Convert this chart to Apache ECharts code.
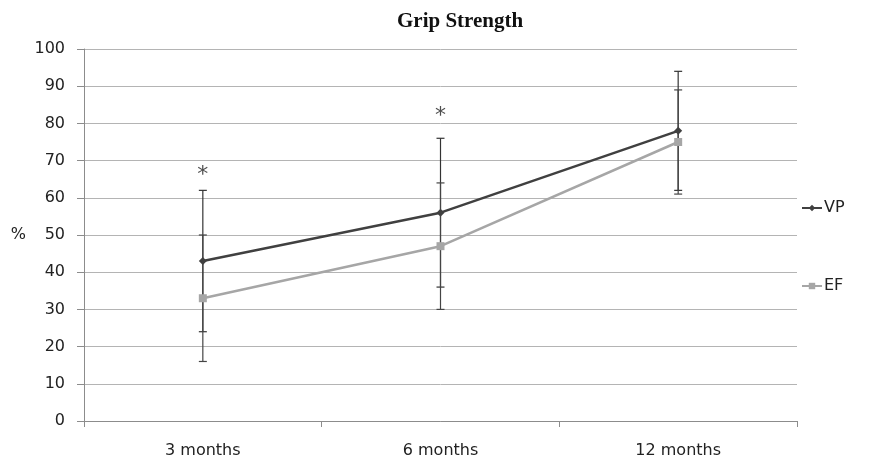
<!DOCTYPE html>
<html>
<head>
<meta charset="utf-8">
<script src="https://cdn.jsdelivr.net/npm/echarts@6/dist/echarts.min.js"></script>
<style>
  html, body { margin: 0; padding: 0; background: #fff; }
  #chart { width: 873px; height: 464px; }
</style>
</head>
<body>
<div id="chart"></div>
<script>
// data
const months = ['3 months', '6 months', '12 months'];
const vpMean = [43, 56, 78];
const vpLow = [24, 36, 62];
const vpHigh = [62, 76, 94];
const efMean = [33, 47, 75];
const efLow = [16, 30, 61];
const efHigh = [50, 64, 89];
// significance asterisks: category index + height
const starCats = [0, 1];
const starY = [66, 82];

const chart = echarts.init(document.getElementById('chart'));

// error bar drawing (vertical line + caps)
function errBars(low, high, color) {
  return {
    type: 'custom',
    silent: true,
    z: 1,
    data: months.map((m, i) => [i, low[i], high[i]]),
    renderItem: function (params, api) {
      const lo = api.coord([api.value(0), api.value(1)]);
      const hi = api.coord([api.value(0), api.value(2)]);
      const w = 4;
      const st = { stroke: color, lineWidth: 1.2 };
      return {
        type: 'group',
        children: [
          { type: 'line', shape: { x1: lo[0], y1: lo[1], x2: hi[0], y2: hi[1] }, style: st },
          { type: 'line', shape: { x1: lo[0] - w, y1: lo[1], x2: lo[0] + w, y2: lo[1] }, style: st },
          { type: 'line', shape: { x1: hi[0] - w, y1: hi[1], x2: hi[0] + w, y2: hi[1] }, style: st }
        ]
      };
    }
  };
}

const option = {
  animation: false,
  backgroundColor: '#fff',
  title: {
    text: 'Grip Strength',
    left: 392,
    top: 6,
    textStyle: { fontFamily: 'Liberation Serif', fontWeight: 'bold', fontSize: 21, color: '#111' }
  },
  legend: {
    orient: 'vertical',
    left: 796,
    top: 195,
    itemGap: 62,
    itemWidth: 20,
    itemHeight: 8,
    data: ['VP', 'EF'],
    textStyle: { fontFamily: 'DejaVu Sans', fontSize: 16, color: '#222', padding: [0, 0, 0, -3] }
  },
  grid: { left: 84, right: 76, top: 49, bottom: 43 },
  xAxis: {
    type: 'category',
    data: months,
    boundaryGap: true,
    axisLine: { lineStyle: { color: '#8c8c8c', width: 1 } },
    axisTick: { show: true, alignWithLabel: false, length: 6, lineStyle: { color: '#8c8c8c' } },
    axisLabel: { fontFamily: 'DejaVu Sans', fontSize: 16, color: '#222', margin: 22 }
  },
  yAxis: {
    type: 'value',
    min: 0,
    max: 100,
    interval: 10,
    name: '%',
    nameLocation: 'middle',
    nameRotate: 0,
    nameGap: 58,
    nameTextStyle: { fontFamily: 'DejaVu Sans', fontSize: 16, color: '#222', padding: [16, 0, 0, 0] },
    axisLine: { show: true, lineStyle: { color: '#8c8c8c', width: 1 } },
    axisTick: { show: true, inside: false, length: 7, lineStyle: { color: '#8c8c8c' } },
    axisLabel: { fontFamily: 'DejaVu Sans', fontSize: 16, color: '#222', margin: 19 },
    splitLine: { lineStyle: { color: '#b4b4b4', width: 1 } }
  },
  series: [
    errBars(vpLow, vpHigh, '#333'),
    errBars(efLow, efHigh, '#444'),
    {
      name: 'VP',
      type: 'line',
      data: vpMean,
      color: '#404040',
      symbol: 'diamond',
      symbolSize: 8,
      lineStyle: { width: 2.5, color: '#404040' },
      itemStyle: { color: '#404040' },
      z: 3
    },
    {
      name: 'EF',
      type: 'line',
      data: efMean,
      color: '#a6a6a6',
      symbol: 'rect',
      symbolSize: 8,
      lineStyle: { width: 2.5, color: '#a6a6a6' },
      itemStyle: { color: '#a6a6a6' },
      z: 2
    },
    {
      name: 'sig',
      type: 'scatter',
      symbolSize: 0,
      silent: true,
      data: starCats.map((c, i) => [c, starY[i]]),
      label: {
        show: true,
        formatter: '*',
        position: 'inside',
        fontFamily: 'DejaVu Sans',
        fontSize: 22,
        color: '#222'
      }
    }
  ]
};

chart.setOption(option);
</script>
</body>
</html>
